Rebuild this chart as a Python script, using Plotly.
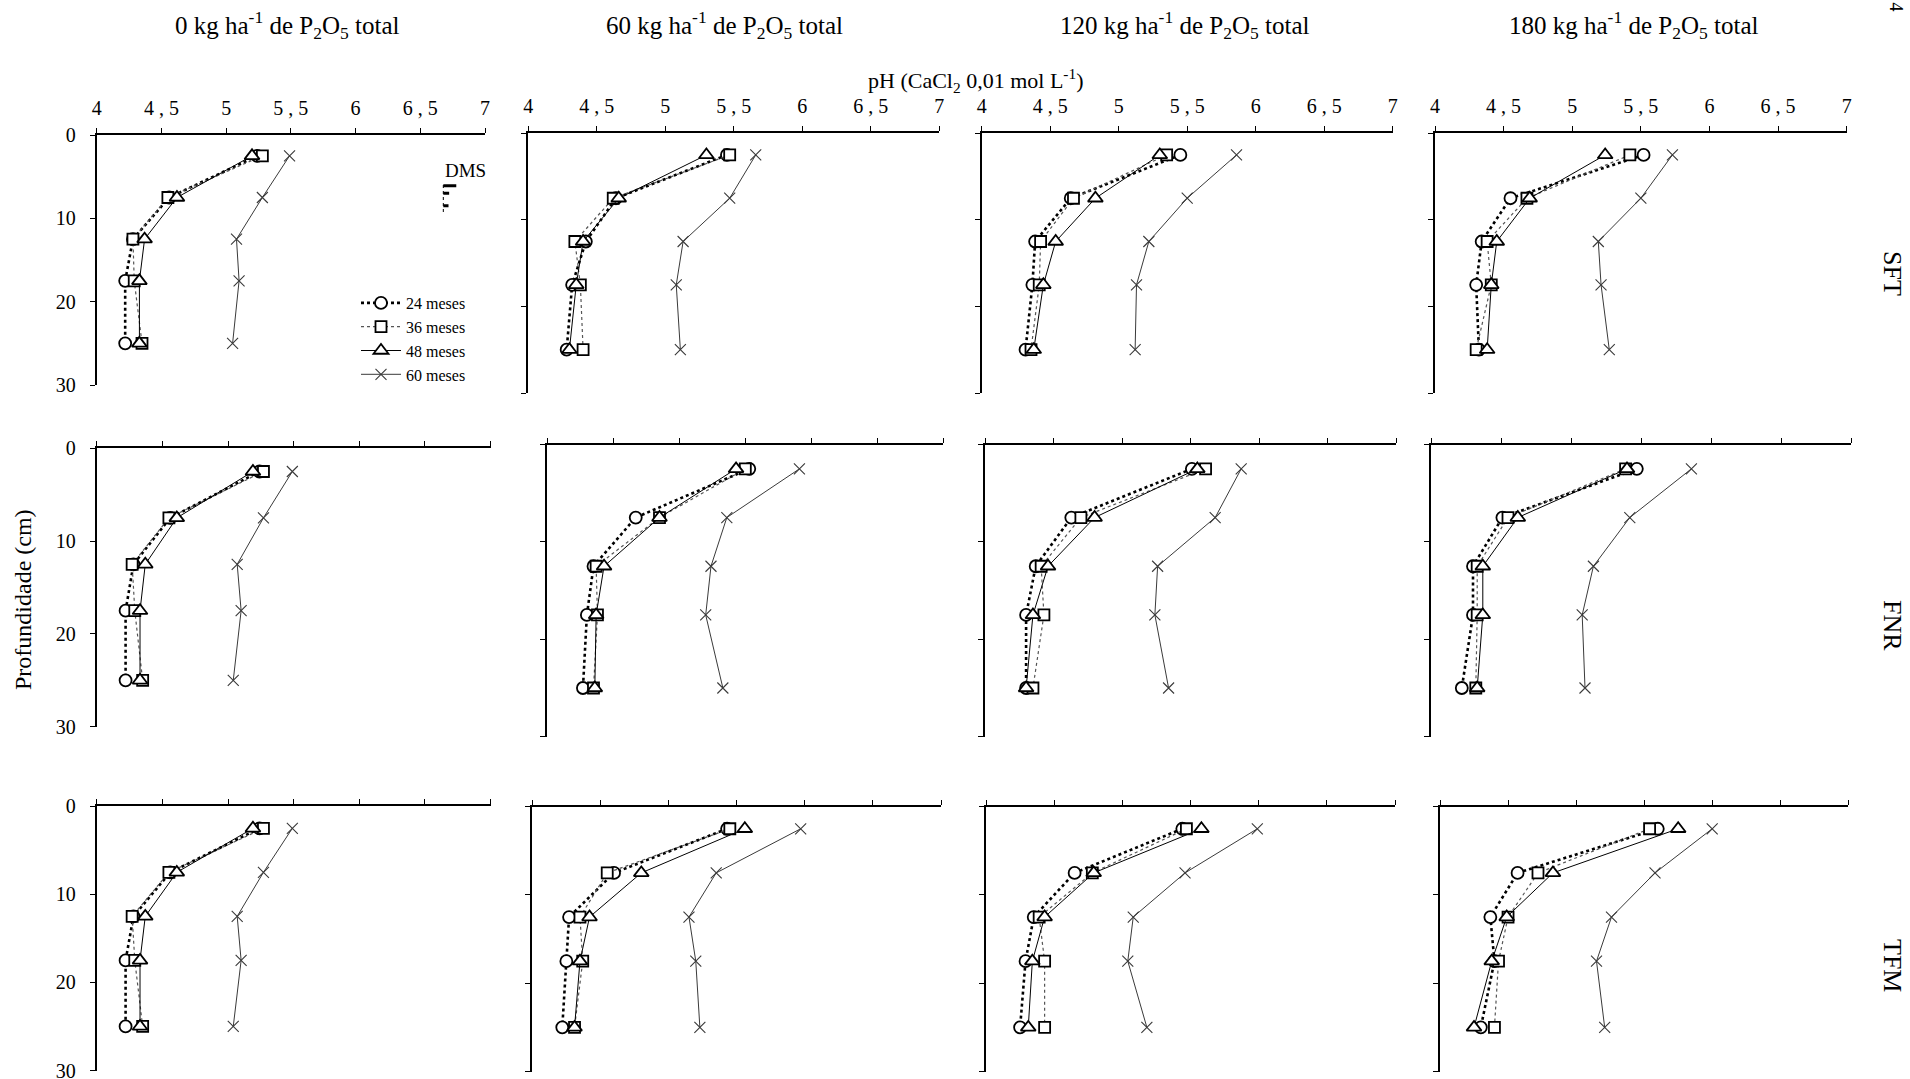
import plotly.graph_objects as go

# ---------------- data ----------------
depths = [2.5, 7.5, 12.5, 17.5, 25]
times = ["24 meses", "36 meses", "48 meses", "60 meses"]
treatments = ["SFT", "FNR", "TFM"]
doses = [0, 60, 120, 180]
x_tickvals = [4, 4.5, 5, 5.5, 6, 6.5, 7]
x_ticktext = ["4", "4 , 5", "5", "5 , 5", "6", "6 , 5", "7"]
y_tickvals = [0, 10, 20, 30]

# each panel: rows = 24, 36, 48, 60 meses ; columns = depths
SFT_0 = [[5.24, 4.56, 4.28, 4.22, 4.22],
         [5.28, 4.55, 4.28, 4.29, 4.35],
         [5.20, 4.62, 4.37, 4.33, 4.33],
         [5.49, 5.28, 5.08, 5.10, 5.05]]
SFT_60 = [[5.45, 4.64, 4.42, 4.32, 4.28],
          [5.47, 4.62, 4.34, 4.38, 4.40],
          [5.30, 4.66, 4.40, 4.35, 4.30],
          [5.66, 5.47, 5.13, 5.08, 5.11]]
SFT_120 = [[5.45, 4.65, 4.39, 4.37, 4.32],
           [5.35, 4.67, 4.43, 4.42, 4.36],
           [5.30, 4.83, 4.54, 4.45, 4.38],
           [5.86, 5.50, 5.22, 5.13, 5.12]]
SFT_180 = [[5.52, 4.55, 4.34, 4.30, 4.32],
           [5.42, 4.67, 4.38, 4.41, 4.30],
           [5.24, 4.69, 4.45, 4.41, 4.38],
           [5.73, 5.50, 5.19, 5.21, 5.27]]
FNR_0 = [[5.24, 4.56, 4.28, 4.22, 4.22],
         [5.27, 4.55, 4.27, 4.29, 4.35],
         [5.19, 4.61, 4.37, 4.33, 4.33],
         [5.49, 5.27, 5.07, 5.10, 5.04]]
FNR_60 = [[5.53, 4.67, 4.35, 4.30, 4.27],
          [5.50, 4.85, 4.37, 4.38, 4.35],
          [5.43, 4.85, 4.43, 4.37, 4.36],
          [5.91, 5.36, 5.24, 5.20, 5.33]]
FNR_120 = [[5.51, 4.63, 4.37, 4.30, 4.30],
           [5.61, 4.70, 4.41, 4.43, 4.35],
           [5.55, 4.80, 4.46, 4.35, 4.30],
           [5.87, 5.68, 5.26, 5.24, 5.34]]
FNR_180 = [[5.47, 4.51, 4.30, 4.30, 4.22],
           [5.39, 4.55, 4.33, 4.33, 4.32],
           [5.40, 4.62, 4.37, 4.37, 4.33],
           [5.86, 5.42, 5.16, 5.08, 5.10]]
TFM_0 = [[5.24, 4.56, 4.28, 4.22, 4.22],
         [5.27, 4.55, 4.27, 4.29, 4.35],
         [5.19, 4.61, 4.37, 4.33, 4.33],
         [5.49, 5.27, 5.07, 5.10, 5.04]]
TFM_60 = [[5.43, 4.60, 4.27, 4.25, 4.22],
          [5.45, 4.55, 4.35, 4.37, 4.31],
          [5.56, 4.80, 4.42, 4.35, 4.31],
          [5.97, 5.35, 5.15, 5.20, 5.23]]
TFM_120 = [[5.44, 4.65, 4.35, 4.29, 4.25],
           [5.47, 4.78, 4.39, 4.43, 4.43],
           [5.58, 4.79, 4.43, 4.34, 4.31],
           [5.99, 5.46, 5.08, 5.04, 5.18]]
TFM_180 = [[5.60, 4.57, 4.37, 4.40, 4.30],
           [5.54, 4.72, 4.50, 4.43, 4.40],
           [5.75, 4.83, 4.49, 4.38, 4.25],
           [6.00, 5.58, 5.26, 5.15, 5.21]]

# DMS (least significant difference) bar lengths, pH units
dms_values = [0.10, 0.045, 0.04]

panels = [[SFT_0, SFT_60, SFT_120, SFT_180],
          [FNR_0, FNR_60, FNR_120, FNR_180],
          [TFM_0, TFM_60, TFM_120, TFM_180]]

# ---------------- layout geometry (page pixels) ----------------
PAD = 0                      # body margin removed by post_script
FW, FH = 1910 - 2 * PAD, 1079 - 2 * PAD


def clamp(v):
    return max(0.0, min(1.0, v))


def px(x):
    return clamp((x - PAD) / FW)


def py(y):
    return clamp(1 - (y - PAD) / FH)


x_dom = [[(96.7, 485.0), (528.3, 939.3), (981.7, 1392.7), (1435.0, 1846.7)],
         [(96.7, 490.6), (547.3, 943.3), (985.0, 1396.0), (1431.0, 1851.0)],
         [(96.7, 490.6), (532.3, 941.0), (986.0, 1395.0), (1440.0, 1848.3)]]
y_dom = [[(135.0, 385.0)] + [(133.3, 393.0)] * 3,
         [(448.3, 726.7)] + [(444.5, 736.7)] * 3,
         [(806.3, 1070.5)] + [(806.7, 1071.5)] * 3]

FONT = "Liberation Serif, Times New Roman, serif"

styles = [
    dict(line=dict(color="black", width=2.6, dash="dot"),
         marker=dict(symbol="circle", size=12, color="white",
                     line=dict(color="black", width=1.8))),
    dict(line=dict(color="#555555", width=1.2, dash="dot"),
         marker=dict(symbol="square", size=11, color="white",
                     line=dict(color="black", width=1.8))),
    dict(line=dict(color="black", width=1.0),
         marker=dict(symbol="triangle-up", size=13, color="white",
                     line=dict(color="black", width=1.8))),
    dict(line=dict(color="#3a3a3a", width=1.0),
         marker=dict(symbol="x-thin", size=11, color="#3a3a3a",
                     line=dict(color="#3a3a3a", width=1.1))),
]

fig = go.Figure()
layout_axes = {}
for r in range(3):
    for c in range(4):
        k = r * 4 + c + 1
        xa = "x" if k == 1 else f"x{k}"
        ya = "y" if k == 1 else f"y{k}"
        data = panels[r][c]
        for t in range(4):
            fig.add_trace(go.Scatter(
                x=data[t], y=depths, mode="lines+markers",
                name=times[t], xaxis=xa, yaxis=ya,
                showlegend=(k == 1), cliponaxis=False,
                **styles[t]))
        x0, x1 = x_dom[r][c]
        y0, y1 = y_dom[r][c]
        layout_axes["xaxis" if k == 1 else f"xaxis{k}"] = dict(
            domain=[px(x0), px(x1)], anchor=ya, side="top",
            range=[4, 7], tickvals=x_tickvals, ticktext=x_ticktext,
            showticklabels=(r == 0), ticks="outside", ticklen=5,
            tickwidth=1.2, tickcolor="black", automargin=False,
            showline=True, linecolor="black", linewidth=2,
            showgrid=False, zeroline=False,
            ticklabelstandoff=5,
            tickfont=dict(family=FONT, size=20, color="black"))
        layout_axes["yaxis" if k == 1 else f"yaxis{k}"] = dict(
            domain=[py(y1), py(y0)], anchor=xa,
            range=[30, 0], tickvals=y_tickvals,
            showticklabels=(c == 0), ticks="outside", ticklen=5,
            tickwidth=1.2, tickcolor="black", automargin=False,
            showline=True, linecolor="black", linewidth=2,
            showgrid=False, zeroline=False,
            ticklabelstandoff=10, ticklabeloverflow="allow",
            tickfont=dict(family=FONT, size=20, color="black"))

fig.update_layout(**layout_axes)

annotations = []
# column titles
title_x = [287, 724, 1184, 1633]
for c, d in enumerate(doses):
    annotations.append(dict(
        text=f"{d} kg ha<sup>-1</sup> de P<sub>2</sub>O<sub>5</sub> total",
        x=px(title_x[c]), y=py(25), xref="paper", yref="paper",
        showarrow=False, xanchor="center", yanchor="middle",
        font=dict(family=FONT, size=25, color="black")))
# x axis title
annotations.append(dict(
    text="pH (CaCl<sub>2</sub> 0,01 mol L<sup>-1</sup>)",
    x=px(975), y=py(80), xref="paper", yref="paper", showarrow=False,
    xanchor="center", yanchor="middle",
    font=dict(family=FONT, size=22, color="black")))
# y axis title
annotations.append(dict(
    text="Profundidade (cm)", x=px(23), y=py(600),
    xref="paper", yref="paper", showarrow=False, textangle=-90,
    xanchor="center", yanchor="middle",
    font=dict(family=FONT, size=24, color="black")))
# row labels
row_y = [273, 625, 965]
for r, name in enumerate(treatments):
    annotations.append(dict(
        text=name, x=px(1893), y=py(row_y[r]),
        xref="paper", yref="paper", showarrow=False, textangle=90,
        xanchor="center", yanchor="middle",
        font=dict(family=FONT, size=26, color="black")))
# page number remnant at top right
annotations.append(dict(
    text="4", x=px(1896), y=1, xref="paper", yref="paper",
    showarrow=False, textangle=90, xanchor="center", yanchor="top",
    font=dict(family=FONT, size=18, color="black")))
# DMS label
annotations.append(dict(
    text="DMS", x=6.85, y=4.2, xref="x", yref="y", showarrow=False,
    xanchor="center", yanchor="middle",
    font=dict(family=FONT, size=19, color="black")))

shapes = []
dms_x = 6.678
dms_y = [6.1, 7.0, 8.5]
shapes.append(dict(type="line", xref="x", yref="y", x0=dms_x, x1=dms_x,
                   y0=6.0, y1=9.4, line=dict(color="black", width=1, dash="dot")))
for v, yy in zip(dms_values, dms_y):
    shapes.append(dict(type="line", xref="x", yref="y", x0=dms_x, x1=dms_x + v,
                       y0=yy, y1=yy, line=dict(color="black", width=3)))

fig.update_layout(
    width=FW, height=FH, margin=dict(l=0, r=0, t=0, b=0, autoexpand=False),
    paper_bgcolor="white", plot_bgcolor="white",
    font=dict(family=FONT, color="black"),
    annotations=annotations, shapes=shapes,
    legend=dict(x=px(356), y=py(286), xanchor="left", yanchor="top",
                bgcolor="rgba(0,0,0,0)", tracegroupgap=0,
                font=dict(family=FONT, size=16, color="black"),
                itemwidth=40),
)

fig.write_html("out.html", config={"displayModeBar": False},
               post_script="document.body.style.margin='0';"
                           "document.body.style.overflow='hidden';")
